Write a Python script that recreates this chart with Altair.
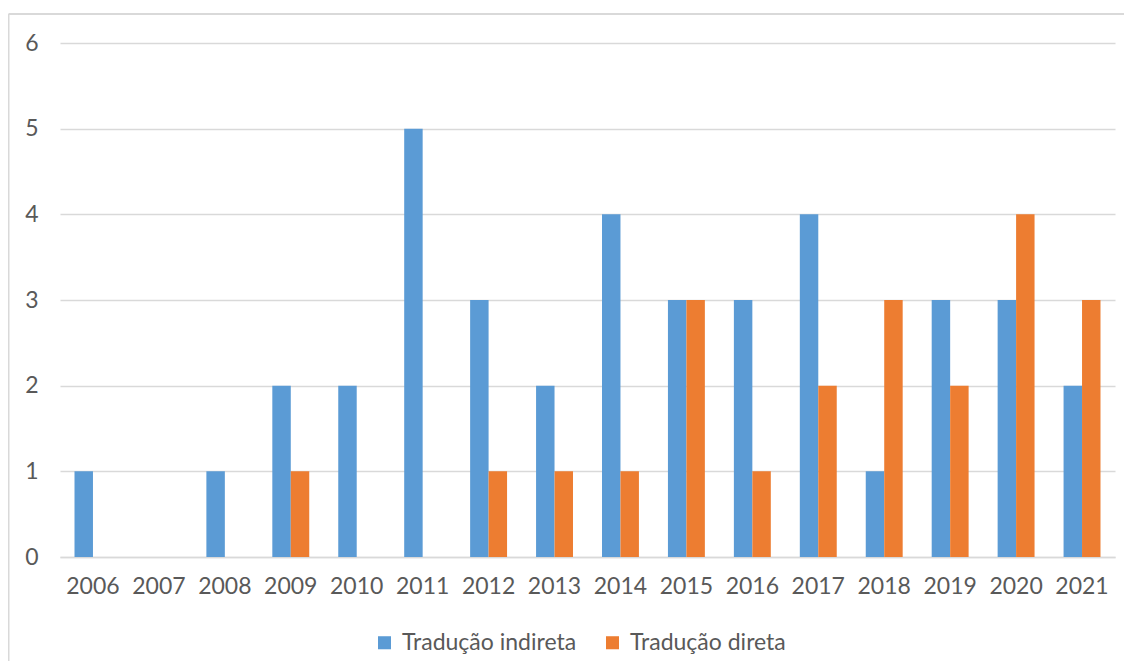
import altair as alt
import pandas as pd

years = [str(y) for y in range(2006, 2022)]
indireta = [1, 0, 1, 2, 2, 5, 3, 2, 4, 3, 3, 4, 1, 3, 3, 2]
direta = [0, 0, 0, 1, 0, 0, 1, 1, 1, 3, 1, 2, 3, 2, 4, 3]
series = ["Tradução indireta", "Tradução direta"]
colors = ["#5B9BD5", "#ED7D31"]

rows = []
for i, y in enumerate(years):
    rows.append({"ano": y, "serie": series[0], "valor": indireta[i]})
    rows.append({"ano": y, "serie": series[1], "valor": direta[i]})
df = pd.DataFrame(rows)

FONT = "Lato"
TXT = "#595959"
FS = 23

bars = alt.Chart(df).mark_bar().encode(
    x=alt.X("ano:N", sort=years,
            scale=alt.Scale(paddingInner=0.44, paddingOuter=0.22),
            axis=alt.Axis(title=None, labelAngle=0, ticks=False, domain=True,
                          domainColor="#D9D9D9", domainWidth=1.5,
                          labelPadding=18, labelFontSize=FS, labelColor=TXT,
                          labelFont=FONT)),
    xOffset=alt.XOffset("serie:N", sort=series, scale=alt.Scale(paddingInner=0, paddingOuter=0)),
    y=alt.Y("valor:Q", scale=alt.Scale(domain=[0, 6]),
            axis=alt.Axis(title=None, values=[0, 1, 2, 3, 4, 5, 6], ticks=False,
                          domain=False, gridColor="#D9D9D9", gridWidth=1.5,
                          labelPadding=22, labelFontSize=FS, labelColor=TXT,
                          labelFont=FONT)),
    color=alt.Color("serie:N", sort=series,
                    scale=alt.Scale(domain=series, range=colors),
                    legend=alt.Legend(title=None, orient="none", direction="horizontal",
                                      legendX=313, legendY=588,
                                      symbolType="square", symbolSize=170,
                                      symbolStrokeWidth=0, symbolOpacity=1,
                                      labelFontSize=FS, labelColor=TXT, labelFont=FONT,
                                      labelLimit=0, columnPadding=24, labelOffset=6)),
)

frame_df = pd.DataFrame({"k": [0]})
frame_top = alt.Chart(frame_df).mark_rule(color="#D9D9D9", strokeWidth=2).encode(
    x=alt.value(-51.5), x2=alt.value(1100), y=alt.value(-29)
)
frame_left = alt.Chart(frame_df).mark_rule(color="#D9D9D9", strokeWidth=2).encode(
    x=alt.value(-51.5), y=alt.value(-29), y2=alt.value(660)
)

chart = alt.layer(frame_top, frame_left, bars).properties(
    width=1055, height=514,
    autosize=alt.AutoSizeParams(type="none"),
    padding={"left": 52, "top": 35, "right": 9, "bottom": 104},
).configure(background="white").configure_view(stroke=None)

chart.save("out.html", embed_options={"renderer": "svg", "actions": False})
